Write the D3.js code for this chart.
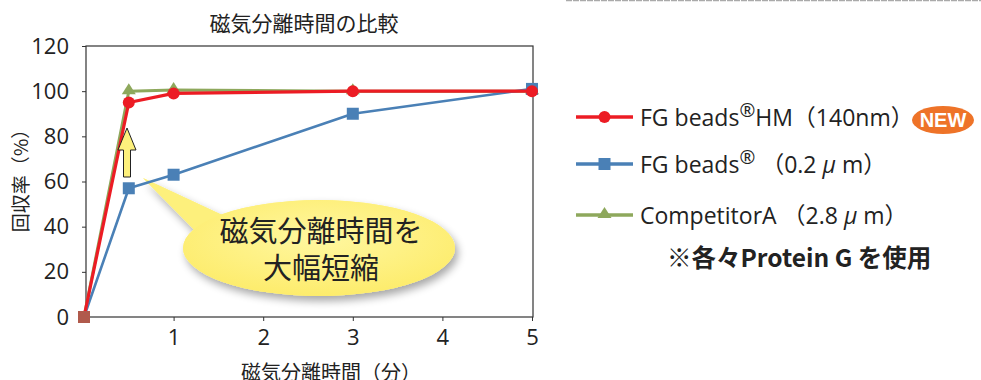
<!DOCTYPE html>
<html><head><meta charset="utf-8">
<script src="https://cdn.jsdelivr.net/npm/d3@7"></script>
<style>
body{margin:0;background:#fff;}
svg{font-family:"Noto Sans CJK JP","Noto Sans",sans-serif;}
</style></head>
<body><svg id="c" width="981" height="380"></svg>
<script>
const times = [0, 0.5, 1, 3, 5];
const hmValues = [0, 95, 99, 100, 100];
const fgValues = [0, 57, 63, 90, 101];
const compValues = [0, 100, 100.5, 100, 100];
const xTicks = [1, 2, 3, 4, 5];
const yTicks = [0, 20, 40, 60, 80, 100, 120];

const svg = d3.select("#c");
const x = d3.scaleLinear().domain([0, 5]).range([84, 532]);
const y = d3.scaleLinear().domain([0, 120]).range([317, 46]);
const numFont = "'Open Sans','Noto Sans',sans-serif";

// top grey rule
svg.append("line").attr("x1",566).attr("x2",981).attr("y1",0.5).attr("y2",0.5)
  .attr("stroke","#aaa").attr("stroke-width",1.5).attr("stroke-dasharray","6,1");

// title
svg.append("text").attr("x",304).attr("y",31).attr("text-anchor","middle")
  .attr("font-size",21).attr("fill","#222").text("磁気分離時間の比較");

// frame
svg.append("rect").attr("x",86).attr("y",y(120)).attr("width",533-86).attr("height",y(0)-y(120))
  .attr("fill","none").attr("stroke","#333").attr("stroke-width",1.2);

// y axis
const ya = svg.append("g").attr("transform","translate(86,0)")
  .call(d3.axisLeft(y).tickValues(yTicks).tickFormat(d3.format("d")).tickSize(4).tickPadding(13));
ya.select(".domain").remove();
ya.selectAll("line").attr("stroke","#333");
ya.selectAll("text").attr("font-size",22).attr("fill","#222").style("font-family",numFont);

// x axis
const xa = svg.append("g").attr("transform",`translate(0,${y(0)})`)
  .call(d3.axisBottom(x).tickValues(xTicks).tickFormat(d3.format("d")).tickSize(4).tickPadding(8));
xa.select(".domain").remove();
xa.selectAll("line").attr("stroke","#333");
xa.selectAll("text").attr("font-size",22).attr("fill","#222").style("font-family",numFont);

// axis labels
svg.append("text").attr("transform","translate(28,176) rotate(-90)").attr("text-anchor","middle")
  .attr("font-size",19).attr("fill","#222").text("回収率（%）");
svg.append("text").attr("x",331).attr("y",380).attr("text-anchor","middle")
  .attr("font-size",20).attr("fill","#222").text("磁気分離時間（分）");

// defs
const defs = svg.append("defs");
const f = defs.append("filter").attr("id","sh").attr("x","-20%").attr("y","-20%").attr("width","150%").attr("height","160%");
f.append("feGaussianBlur").attr("in","SourceAlpha").attr("stdDeviation",4);
f.append("feOffset").attr("dx",3).attr("dy",5).attr("result","b");
f.append("feComponentTransfer").append("feFuncA").attr("type","linear").attr("slope",0.35);
const fm = f.append("feMerge"); fm.append("feMergeNode"); fm.append("feMergeNode").attr("in","SourceGraphic");
const g = defs.append("radialGradient").attr("id","yg").attr("cx","50%").attr("cy","40%").attr("r","60%");
g.append("stop").attr("offset","0%").attr("stop-color","#fff7a0");
g.append("stop").attr("offset","100%").attr("stop-color","#fdec6c");

// callout bubble
const cx0 = 319, cy0 = 248, rx = 136, ry = 48;
const bub = svg.append("g").attr("filter","url(#sh)");
const tipX = 143, tipY = 178;
const a1 = Math.PI*1.12, a2 = Math.PI*1.24;
const p = d3.path();
p.moveTo(tipX, tipY);
p.lineTo(cx0 + rx*Math.cos(a1)*0.98, cy0 + ry*Math.sin(a1)*0.98);
p.lineTo(cx0 + rx*Math.cos(a2)*0.9, cy0 + ry*Math.sin(a2)*0.9);
p.closePath();
bub.append("path").attr("d", p.toString()).attr("fill","#fdf07c");
bub.append("ellipse").attr("cx",cx0).attr("cy",cy0).attr("rx",rx).attr("ry",ry).attr("fill","url(#yg)");
svg.append("path").attr("d", p.toString()).attr("fill","#fdf07c");
svg.append("ellipse").attr("cx",cx0).attr("cy",cy0).attr("rx",rx).attr("ry",ry).attr("fill","url(#yg)");
svg.append("text").attr("x",321).attr("y",242).attr("text-anchor","middle").attr("font-size",29)
  .attr("fill","#222").text("磁気分離時間を");
svg.append("text").attr("x",321).attr("y",279).attr("text-anchor","middle").attr("font-size",29)
  .attr("fill","#222").text("大幅短縮");

// series
const series = [
  {vals: compValues, color:"#8ea85c", w:3, shape:"tri"},
  {vals: fgValues, color:"#4a80b6", w:2.6, shape:"sq"},
  {vals: hmValues, color:"#ec1c24", w:3.2, shape:"circ"}
];
const line = d3.line().x(d=>x(d[0])).y(d=>y(d[1]));
series.forEach(s=>{
  const pts = times.map((t,i)=>[t, s.vals[i]]);
  svg.append("path").attr("d", line(pts)).attr("fill","none").attr("stroke",s.color)
    .attr("stroke-width",s.w).attr("stroke-linejoin","round");
  pts.forEach((d,i)=>{
    if (i===0) return;
    drawMarker(svg, s.shape, x(d[0]), y(d[1]), s.color);
  });
});
svg.append("rect").attr("x",x(times[0])-6).attr("y",y(hmValues[0])-6).attr("width",12).attr("height",12).attr("fill","#b05a4c");

function drawMarker(sel, shape, cx, cy, color){
  if (shape==="circ") sel.append("circle").attr("cx",cx).attr("cy",cy).attr("r",6).attr("fill",color);
  else if (shape==="sq") sel.append("rect").attr("x",cx-6).attr("y",cy-6).attr("width",12).attr("height",12).attr("fill",color);
  else sel.append("path").attr("d",`M${cx},${cy-8}L${cx+7},${cy+3}L${cx-7},${cy+3}Z`).attr("fill",color);
}

// arrow
const ax = 127;
svg.append("path").attr("d",`M${ax},128 L${ax+9},150 L${ax+3.5},150 L${ax+3.5},177 L${ax-3.5},177 L${ax-3.5},150 L${ax-9},150 Z`)
  .attr("fill","#fdf07c").attr("stroke","#222").attr("stroke-width",1);

// legend
const legY = [117, 164, 215];
const lg = svg.append("g");
[series[2], series[1], series[0]].forEach((s,i)=>{
  lg.append("line").attr("x1",576).attr("x2",633).attr("y1",legY[i]).attr("y2",legY[i])
    .attr("stroke",s.color).attr("stroke-width",3.5);
  drawMarker(lg, s.shape, 604.5, legY[i], s.color);
});
const latin = "'Open Sans','Noto Sans CJK JP',sans-serif";
const t1 = lg.append("text").attr("x",640).attr("y",legY[0]+9).attr("font-size",23).attr("fill","#222").style("font-family",latin);
t1.append("tspan").text("FG beads");
t1.append("tspan").attr("dy",-9).attr("font-size",19).text("®");
t1.append("tspan").attr("dy",9).text("HM（140nm）");
const t2 = lg.append("text").attr("x",640).attr("y",legY[1]+9).attr("font-size",23).attr("fill","#222").style("font-family",latin);
t2.append("tspan").text("FG beads");
t2.append("tspan").attr("dy",-9).attr("font-size",19).text("®");
t2.append("tspan").attr("dy",9).text(" （0.2");
t2.append("tspan").attr("font-style","italic").text(" μ ");
t2.append("tspan").text("m）");
const t3 = lg.append("text").attr("x",640).attr("y",legY[2]+9).attr("font-size",23).attr("fill","#222").style("font-family",latin);
t3.append("tspan").text("CompetitorA （2.8");
t3.append("tspan").attr("font-style","italic").text(" μ ");
t3.append("tspan").text("m）");
lg.append("text").attr("x",667).attr("y",267).attr("font-size",24.5).attr("font-weight","bold").attr("fill","#222")
  .text("※各々Protein G を使用");
// NEW badge
lg.append("ellipse").attr("cx",943).attr("cy",120).attr("rx",31).attr("ry",14).attr("fill","#ee7328");
lg.append("text").attr("x",943).attr("y",127).attr("text-anchor","middle").attr("font-size",20)
  .attr("font-weight","bold").attr("fill","#fff").style("font-family","'Liberation Sans',Arial,sans-serif").text("NEW");
</script></body></html>
